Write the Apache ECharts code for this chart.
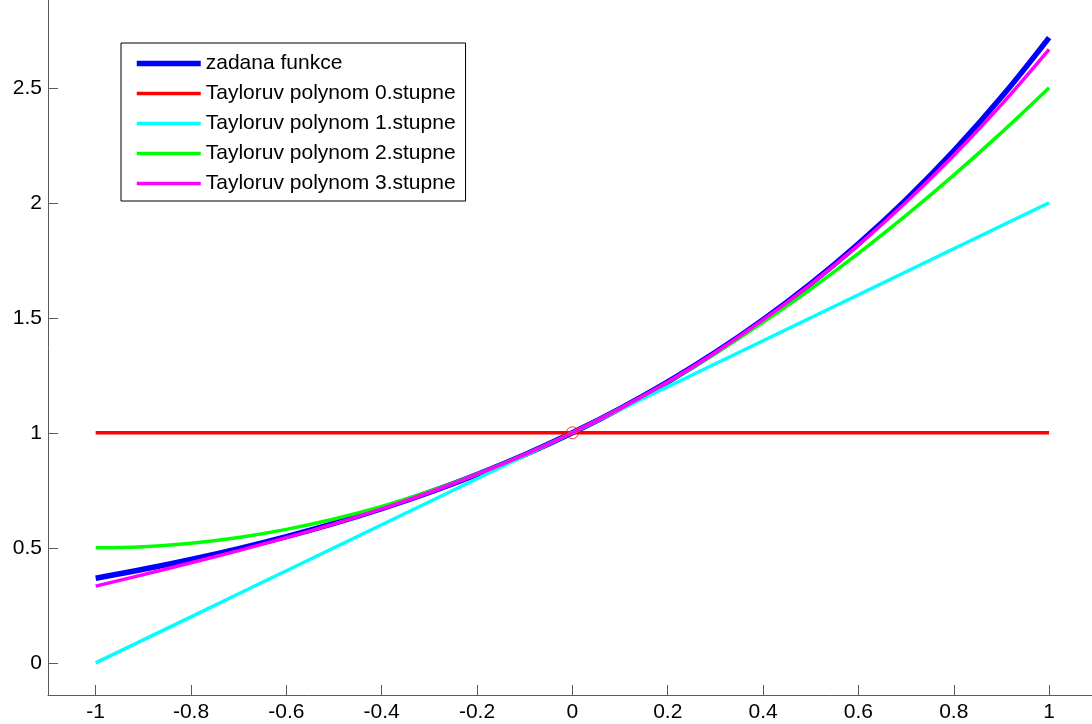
<!DOCTYPE html>
<html>
<head>
<meta charset="utf-8">
<script src="https://cdn.jsdelivr.net/npm/echarts@6/dist/echarts.min.js"></script>
<style>
  html, body { margin: 0; padding: 0; background: #fff; }
  #chart { width: 1092px; height: 724px; }
</style>
</head>
<body>
<div id="chart"></div>
<script>
// Sample points on [-1, 1]
const xs = [-1, -0.9, -0.8, -0.7, -0.6, -0.5, -0.4, -0.3, -0.2, -0.1, 0,
            0.1, 0.2, 0.3, 0.4, 0.5, 0.6, 0.7, 0.8, 0.9, 1];

// Given function e^x
const fValues = [0.3679, 0.4066, 0.4493, 0.4966, 0.5488, 0.6065, 0.6703, 0.7408, 0.8187, 0.9048, 1,
                 1.1052, 1.2214, 1.3499, 1.4918, 1.6487, 1.8221, 2.0138, 2.2255, 2.4596, 2.7183];
// Taylor polynomials about 0
const t0Values = [1, 1, 1, 1, 1, 1, 1, 1, 1, 1, 1,
                  1, 1, 1, 1, 1, 1, 1, 1, 1, 1];
const t1Values = [0, 0.1, 0.2, 0.3, 0.4, 0.5, 0.6, 0.7, 0.8, 0.9, 1,
                  1.1, 1.2, 1.3, 1.4, 1.5, 1.6, 1.7, 1.8, 1.9, 2];
const t2Values = [0.5, 0.505, 0.52, 0.545, 0.58, 0.625, 0.68, 0.745, 0.82, 0.905, 1,
                  1.105, 1.22, 1.345, 1.48, 1.625, 1.78, 1.945, 2.12, 2.305, 2.5];
const t3Values = [0.3333, 0.3835, 0.4347, 0.4878, 0.544, 0.6042, 0.6693, 0.7405, 0.8187, 0.9048, 1,
                  1.1052, 1.2213, 1.3495, 1.4907, 1.6458, 1.816, 2.0022, 2.2053, 2.4265, 2.6667];

// Expansion point
const centerPoint = [0, 1];

const xTicks = [-1, -0.8, -0.6, -0.4, -0.2, 0, 0.2, 0.4, 0.6, 0.8, 1];
const yTicks = [0, 0.5, 1, 1.5, 2, 2.5];

const names = ['zadana funkce', 'Tayloruv polynom 0.stupne', 'Tayloruv polynom 1.stupne',
               'Tayloruv polynom 2.stupne', 'Tayloruv polynom 3.stupne'];
const colors = ['#0000ff', '#ff0000', '#00ffff', '#00ff00', '#ff00ff'];
const widths = [5.5, 3.5, 3.5, 3.5, 3.5];
const curved = [true, false, false, true, true];

const pairs = vals => xs.map((x, i) => [x, vals[i]]);

function lineSeries(idx, vals) {
  return {
    name: names[idx],
    type: 'line',
    data: pairs(vals),
    symbol: 'none',
    showSymbol: false,
    smooth: curved[idx] ? 0.4 : false,
    lineStyle: { color: colors[idx], width: widths[idx] },
    itemStyle: { color: colors[idx] },
    animation: false,
    z: 2
  };
}

const font = 'Liberation Sans, Arial, sans-serif';
const axisColor = '#5a5a5a';

const chart = echarts.init(document.getElementById('chart'), null, { renderer: 'canvas' });
chart.setOption({
  backgroundColor: '#fff',
  animation: false,
  grid: { left: 48, right: 0, top: 0, bottom: 29, containLabel: false },
  legend: {
    data: names.map((n, i) => ({
      name: n,
      itemStyle: { color: 'rgba(0,0,0,0)', borderWidth: 0 },
      lineStyle: { color: colors[i], width: widths[i] }
    })),
    orient: 'vertical',
    left: 121,
    top: 43,
    itemWidth: 64,
    itemHeight: 14,
    itemGap: 9,
    padding: [10, 10, 7, 13],
    backgroundColor: '#fff',
    borderColor: '#000',
    borderWidth: 1,
    borderRadius: 0,
    textStyle: { fontFamily: font, fontSize: 21, lineHeight: 20, color: '#000' },
    selectedMode: false
  },
  xAxis: {
    type: 'value',
    min: -1.1,
    max: 1.09,
    axisLine: { show: true, onZero: false, lineStyle: { color: axisColor, width: 1 } },
    axisTick: { show: true, inside: true, length: 10, customValues: xTicks,
                lineStyle: { color: axisColor } },
    axisLabel: { customValues: xTicks, margin: 7, color: '#000',
                 fontFamily: font, fontSize: 21 },
    splitLine: { show: false }
  },
  yAxis: {
    type: 'value',
    min: -0.14,
    max: 2.8817,
    axisLine: { show: true, onZero: false, lineStyle: { color: axisColor, width: 1 } },
    axisTick: { show: true, inside: true, length: 10, customValues: yTicks,
                lineStyle: { color: axisColor } },
    axisLabel: { customValues: yTicks, margin: 6, color: '#000',
                 fontFamily: font, fontSize: 21 },
    splitLine: { show: false }
  },
  series: [
    lineSeries(0, fValues),
    lineSeries(1, t0Values),
    lineSeries(2, t1Values),
    lineSeries(3, t2Values),
    lineSeries(4, t3Values),
    {
      name: 'stred',
      type: 'scatter',
      data: [centerPoint],
      symbol: 'circle',
      symbolSize: 12,
      itemStyle: { color: 'rgba(0,0,0,0)', borderColor: '#ff0000', borderWidth: 1 },
      z: 5
    }
  ]
});
</script>
</body>
</html>
